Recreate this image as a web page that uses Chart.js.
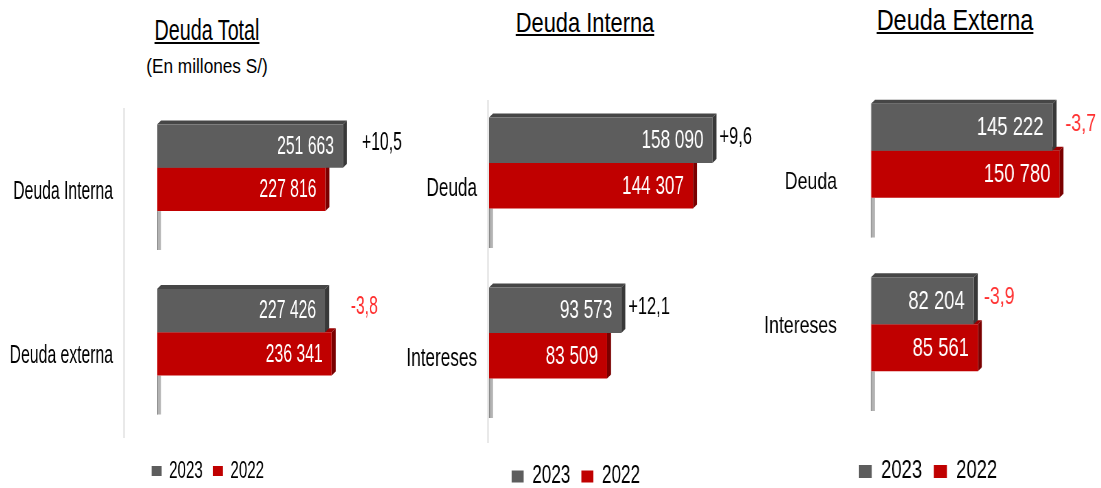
<!DOCTYPE html>
<html lang="es">
<head>
<meta charset="utf-8">
<title>Deuda Total, Interna y Externa</title>
<script src="https://cdn.jsdelivr.net/npm/chart.js@4.4.1/dist/chart.umd.min.js"></script>
<style>
  html, body { margin: 0; padding: 0; background: #fff; overflow: hidden; }
  body { width: 1101px; height: 488px; position: relative; font-family: "Liberation Sans", Arial, sans-serif; }
  canvas { position: absolute; top: 0; transform-origin: 0 0; }
  .title { position: absolute; white-space: nowrap; line-height: 1; color: #000; transform-origin: 50% 0; }
  .title.u { text-decoration: underline; text-decoration-thickness: 2px; text-underline-offset: 2px; }
  .sep { position: absolute; width: 2px; background: #e9e9e9; }
</style>
</head>
<body>
<div class="title u" style="left:207px; top:16px; font-size:29px; transform:translateX(-50%) scaleX(0.68)">Deuda Total</div>
<div class="title" style="left:207px; top:55px; font-size:21px; transform:translateX(-50%) scaleX(0.82)">(En millones S/)</div>
<div class="title u" style="left:585px; top:9px; font-size:28px; transform:translateX(-50%) scaleX(0.78)">Deuda Interna</div>
<div class="title u" style="left:955px; top:6px; font-size:29px; transform:translateX(-50%) scaleX(0.81)">Deuda Externa</div>
<div class="sep" style="left:123px; top:108px; height:330px"></div>
<div class="sep" style="left:487px; top:100px; height:343px"></div>

<canvas id="cTotal"></canvas>
<canvas id="cInterna"></canvas>
<canvas id="cExterna"></canvas>

<script>
// --- data (millones S/) ---
const years = ['2023', '2022'];

const labelsTotal = ['Deuda Interna', 'Deuda externa'];
const total2023 = [251663, 227426];
const total2022 = [227816, 236341];
const totalVar  = [10.5, -3.8];

const labelsInterna = ['Deuda', 'Intereses'];
const interna2023 = [158090, 93573];
const interna2022 = [144307, 83509];
const internaVar  = [9.6, 12.1];

const labelsExterna = ['Deuda', 'Intereses'];
const externa2023 = [145222, 82204];
const externa2022 = [150780, 85561];
const externaVar  = [-3.7, -3.9];

const FONT = '"Liberation Sans", Arial, sans-serif';
const GRAY = '#5d5d5d', RED = '#c00000';

const fmt = v => String(v).replace(/\B(?=(\d{3})+(?!\d))/g, ' ');
const fmtVar = v => (v > 0 ? '+' : '') + v.toFixed(1).replace('.', ',');

// fake 3D look: top + side faces, floor stub, value and variation labels
// (canvas is squeezed horizontally with CSS, so x distances are divided by sq)
const bar3d = {
  id: 'bar3d',
  beforeDatasetsDraw(chart, args, o){
    const { ctx, scales: { x, y } } = chart;
    const dx = 4 / o.sq, dy = 4;
    const x0 = x.getPixelForValue(0);
    const step = (y.bottom - y.top) / chart.data.labels.length;
    const n = chart.data.datasets.length;

    chart.getDatasetMeta(n - 1).data.forEach((bar, i) => {
      const from = bar.y + bar.height / 2;
      const to = y.getPixelForValue(i) + step / 2;
      ctx.fillStyle = '#b3b3b3';
      ctx.fillRect(x0, from, dx, to - from);
      ctx.fillStyle = '#8a8a8a';
      ctx.fillRect(x0, from, 1 / o.sq, to - from);
    });

    for (let di = n - 1; di >= 0; di--){
      const ds = chart.data.datasets[di];
      chart.getDatasetMeta(di).data.forEach(bar => {
        const top = bar.y - bar.height / 2, bot = bar.y + bar.height / 2;
        ctx.fillStyle = ds.topColor;
        ctx.beginPath();
        ctx.moveTo(bar.base, top);
        ctx.lineTo(bar.base + dx, top - dy);
        ctx.lineTo(bar.x + dx, top - dy);
        ctx.lineTo(bar.x, top);
        ctx.closePath();
        ctx.fill();
        ctx.fillStyle = ds.sideColor;
        ctx.beginPath();
        ctx.moveTo(bar.x, top);
        ctx.lineTo(bar.x + dx, top - dy);
        ctx.lineTo(bar.x + dx, bot - dy);
        ctx.lineTo(bar.x, bot);
        ctx.closePath();
        ctx.fill();
      });
    }
  },
  afterDatasetsDraw(chart, args, o){
    const { ctx, scales: { x } } = chart;
    ctx.save();
    ctx.textBaseline = 'middle';
    ctx.font = `${o.valueSize}px ${FONT}`;
    ctx.fillStyle = '#fff';
    ctx.textAlign = 'right';
    chart.data.datasets.forEach((ds, di) => {
      chart.getDatasetMeta(di).data.forEach((bar, i) => {
        ctx.fillText(fmt(ds.data[i]), bar.x - 9 / o.sq, bar.y + 1);
      });
    });
    ctx.font = `${o.varSize}px ${FONT}`;
    ctx.textAlign = 'left';
    const front = chart.getDatasetMeta(0).data;
    o.variation.forEach((v, i) => {
      const maxV = Math.max(...chart.data.datasets.map(ds => ds.data[i]));
      ctx.fillStyle = v < 0 ? '#ff3030' : '#000';
      ctx.fillText(fmtVar(v), x.getPixelForValue(maxV) + o.varGap / o.sq, front[i].y - 3);
    });
    ctx.restore();
  }
};

function drawPanel(p){
  const sq = p.sq;
  const canvas = document.getElementById(p.id);
  canvas.style.left = p.left + 'px';
  canvas.style.transform = `scaleX(${sq})`;
  canvas.width = Math.round(p.width / sq);
  canvas.height = p.height;

  return new Chart(canvas, {
    type: 'bar',
    data: {
      labels: p.labels,
      datasets: [
        { label: years[0], data: p.a, backgroundColor: GRAY, topColor: '#464646', sideColor: '#383838',
          borderWidth: 0, barPercentage: 1, categoryPercentage: p.catPct },
        { label: years[1], data: p.b, backgroundColor: RED, topColor: '#9a0000', sideColor: '#7a0000',
          borderWidth: 0, barPercentage: 1, categoryPercentage: p.catPct }
      ]
    },
    options: {
      indexAxis: 'y',
      responsive: false,
      animation: false,
      events: [],
      layout: { padding: { top: p.padTop, right: p.padRight / sq, left: 0, bottom: 0 } },
      scales: {
        x: {
          min: 0, max: p.xMax,
          ticks: { display: false },
          grid: { display: false, drawTicks: false },
          border: { display: false },
          afterFit: s => { s.height = p.axisH; }
        },
        y: {
          ticks: {
            color: '#000', padding: 0, labelOffset: p.tickOffset,
            font: { family: FONT, size: p.tickSize },
            // optional half-line nudge up/down per label
            callback(value, i){
              const l = this.getLabelForValue(value);
              const n = p.nudge ? p.nudge[i] : 0;
              return n > 0 ? ['', l] : n < 0 ? [l, ''] : l;
            }
          },
          // hidden tick marks keep the gap between labels and bars
          grid: { display: false, drawTicks: true, tickLength: p.tickGap / sq },
          border: { display: false },
          afterFit: s => { s.width = p.axisW / sq; }
        }
      },
      plugins: {
        tooltip: { enabled: false },
        legend: {
          position: 'bottom',
          labels: { boxWidth: p.box / sq, boxHeight: p.box, padding: 16, color: '#000',
                    font: { family: FONT, size: p.legendSize } }
        },
        bar3d: { sq, valueSize: p.valueSize, varSize: p.varSize, varGap: p.varGap, variation: p.variation }
      }
    },
    plugins: [bar3d]
  });
}

drawPanel({ id: 'cTotal', labels: labelsTotal, a: total2023, b: total2022, variation: totalVar,
  left: 0, width: 418, height: 493, sq: 0.63, xMax: 350000, padRight: 2, axisW: 157,
  padTop: 85.5, axisH: 28.5, catPct: 0.527, tickGap: 44, tickOffset: 24,
  tickSize: 25, legendSize: 24, box: 10, valueSize: 25, varSize: 25, varGap: 19 });

drawPanel({ id: 'cInterna', labels: labelsInterna, a: interna2023, b: interna2022, variation: internaVar,
  left: 380, width: 416, height: 499, sq: 0.686, xMax: 200000, padRight: 24, axisW: 109,
  padTop: 78, axisH: 30, catPct: 0.535, tickGap: 12, tickOffset: 26,
  tickSize: 25, legendSize: 25, box: 12, valueSize: 25, varSize: 24, varGap: 7 });

drawPanel({ id: 'cExterna', labels: labelsExterna, a: externa2023, b: externa2022, variation: externaVar,
  left: 760, width: 341, height: 494, sq: 0.738, xMax: 180000, padRight: 5, axisW: 111,
  padTop: 64, axisH: 32, catPct: 0.543, tickGap: 34, tickOffset: 17, nudge: [1, -1],
  tickSize: 24, legendSize: 25, box: 13, valueSize: 25, varSize: 24, varGap: 6 });
</script>
</body>
</html>
